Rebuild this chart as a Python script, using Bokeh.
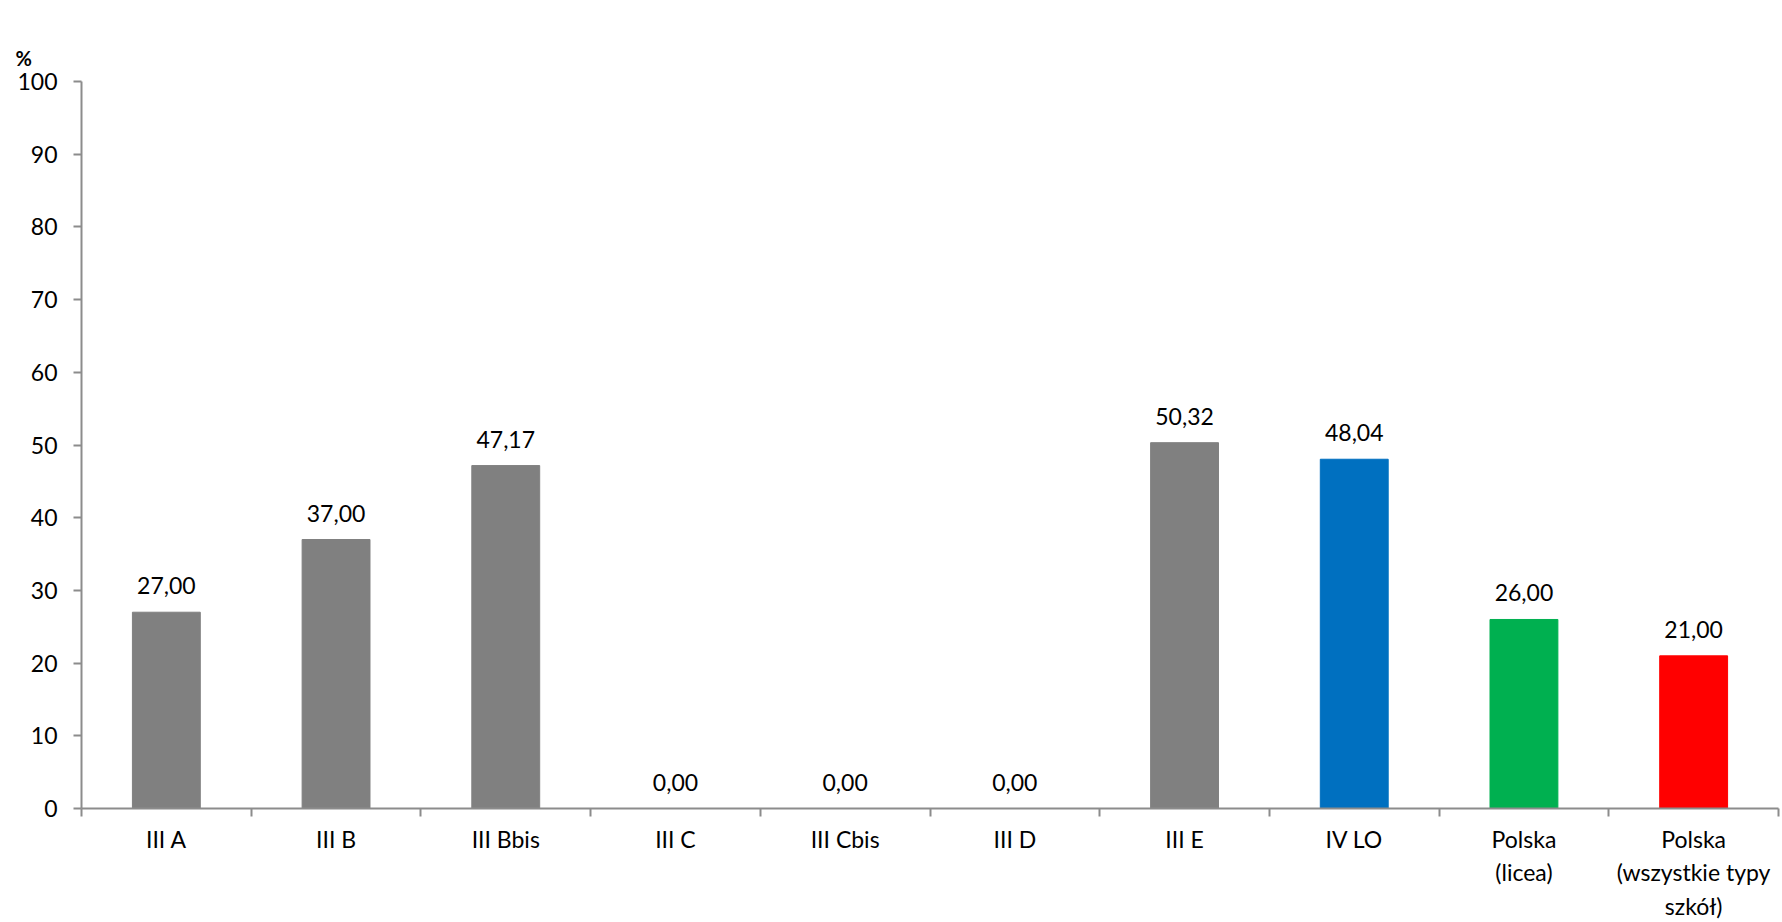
from bokeh.plotting import figure
from bokeh.models import ColumnDataSource, FixedTicker, Title, LabelSet
from bokeh.core.properties import value
from bokeh.embed import file_html
from bokeh.resources import INLINE

categories = ["III A", "III B", "III Bbis", "III C", "III Cbis", "III D", "III E", "IV LO",
              "Polska\n(licea)", "Polska\n(wszystkie typy\nszkół)"]
values = [27.00, 37.00, 47.17, 0.00, 0.00, 0.00, 50.32, 48.04, 26.00, 21.00]
colors = ["#808080", "#808080", "#808080", "#808080", "#808080", "#808080", "#808080",
          "#0070C0", "#00B050", "#FF0000"]
y_ticks = [0, 10, 20, 30, 40, 50, 60, 70, 80, 90, 100]

FONT = "Lato"
AXIS_COLOR = "#8c8c8c"

n = len(categories)
xs = [i + 0.5 for i in range(n)]
labels = [f"{v:.2f}".replace(".", ",") for v in values]
src = ColumnDataSource(dict(x=xs, top=values, color=colors, label=labels))

p = figure(width=1780, height=922, x_range=(0, n), y_range=(0, 100),
           output_backend="svg", toolbar_location=None,
           min_border_left=81, min_border_right=2, min_border_top=81, min_border_bottom=0)
p.outline_line_color = None
p.grid.visible = False
p.background_fill_color = "white"

p.vbar(x="x", top="top", width=0.4, color="color", source=src)

lbl = LabelSet(x="x", y="top", text="label", source=src, text_align="center",
               text_baseline="bottom", y_offset=18, text_font=value(FONT),
               text_font_size="23px", text_color="black")
p.add_layout(lbl)

# x axis: labels at category centers, ticks at category boundaries
xa = p.xaxis[0]
xa.ticker = FixedTicker(ticks=xs, minor_ticks=list(range(n + 1)))
xa.major_label_overrides = {x: c for x, c in zip(xs, categories)}
xa.major_tick_out = 0
xa.major_tick_in = 0
xa.minor_tick_out = 8
xa.minor_tick_in = 0
xa.minor_tick_line_color = AXIS_COLOR
xa.minor_tick_line_width = 2
xa.axis_line_color = AXIS_COLOR
xa.axis_line_width = 2
xa.major_label_standoff = 8
xa.major_label_text_font = FONT
xa.major_label_text_font_size = "23px"
xa.major_label_text_color = "black"

ya = p.yaxis[0]
ya.ticker = FixedTicker(ticks=y_ticks)
ya.major_tick_out = 8
ya.major_tick_in = 0
ya.minor_tick_line_color = None
ya.major_tick_line_color = AXIS_COLOR
ya.major_tick_line_width = 2
ya.axis_line_color = AXIS_COLOR
ya.axis_line_width = 2
ya.major_label_standoff = 16
ya.major_label_text_font = FONT
ya.major_label_text_font_size = "23px"
ya.major_label_text_color = "black"

p.title = Title(text="%", align="left", offset=-66, text_font=FONT,
                text_font_size="20px", text_font_style="bold", text_color="black",
                standoff=24)

open("out.html", "w").write(file_html(p, INLINE))
